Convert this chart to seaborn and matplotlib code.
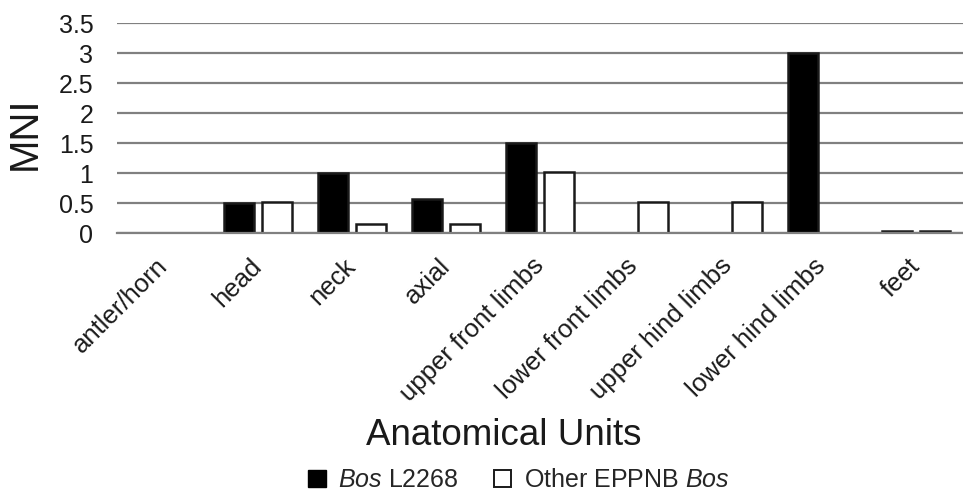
import pandas as pd
import seaborn as sns
import matplotlib
matplotlib.use("Agg", force=True)
import matplotlib.pyplot as plt
from matplotlib.patches import Patch

units = ["antler/horn", "head", "neck", "axial", "upper front limbs",
         "lower front limbs", "upper hind limbs", "lower hind limbs", "feet"]
bos_l2268 = [0, 0.5, 1.0, 0.57, 1.5, 0, 0, 3.0, 0.03]
other_bos = [0, 0.52, 0.15, 0.15, 1.02, 0.52, 0.52, 0, 0.04]
series = ["Bos L2268", "Other EPPNB Bos"]

df = pd.DataFrame({
    "unit": units * 2,
    "mni": bos_l2268 + other_bos,
    "group": [series[0]] * len(units) + [series[1]] * len(units),
})

sns.set_theme(style="white")
plt.rcParams["font.family"] = ["Liberation Sans", "DejaVu Sans"]
plt.rcParams["mathtext.fontset"] = "custom"
plt.rcParams["mathtext.rm"] = "Liberation Sans"
plt.rcParams["mathtext.it"] = "Liberation Sans:italic"

fig = plt.figure(figsize=(9.63, 4.92), dpi=100)
ax = fig.add_axes([0.1215, 0.5264, 0.8785, 0.4268])

sns.barplot(data=df, x="unit", y="mni", hue="group", order=units,
            hue_order=series, palette=["black", "white"], gap=0.2,
            edgecolor="#1a1a1a", linewidth=1.8, legend=False, ax=ax)

ax.set_ylim(0, 3.5)
ax.set_xlim(-0.5, len(units) - 0.5)
ax.set_yticks([0, 0.5, 1, 1.5, 2, 2.5, 3, 3.5])
ax.set_yticklabels(["0", "0.5", "1", "1.5", "2", "2.5", "3", "3.5"])
ax.yaxis.grid(True, color="#808080", linewidth=1.6)
ax.set_axisbelow(True)
for s in ["top", "right", "left"]:
    ax.spines[s].set_visible(False)
ax.spines["bottom"].set_color("#808080")
ax.spines["bottom"].set_linewidth(1.6)
ax.tick_params(axis="y", labelsize=18, length=0, pad=17, labelcolor="#1a1a1a")
ax.tick_params(axis="x", labelsize=18.5, length=0, pad=21, labelcolor="#1a1a1a")
plt.setp(ax.get_xticklabels(), rotation=45, ha="right", va="center",
         rotation_mode="anchor")

ax.set_ylabel("MNI", fontsize=29, color="#1a1a1a", va="center")
ax.yaxis.set_label_coords(-0.109, 0.476)
ax.set_xlabel("Anatomical Units", fontsize=26.5, color="#1a1a1a", va="center")
ax.xaxis.set_label_coords(0.457, -0.965)

handles = [Patch(facecolor="black", edgecolor="black"),
           Patch(facecolor="white", edgecolor="#1a1a1a", linewidth=1.4)]
fig.legend(handles, [r"$\it{Bos}$ L2268", r"Other EPPNB $\it{Bos}$"],
           loc="center", bbox_to_anchor=(0.539, 0.024), ncol=2,
           frameon=False, fontsize=18, handlelength=0.7, handleheight=0.7,
           handletextpad=0.5, columnspacing=1.4, borderpad=0)

fig.savefig("out.png", dpi=100)
